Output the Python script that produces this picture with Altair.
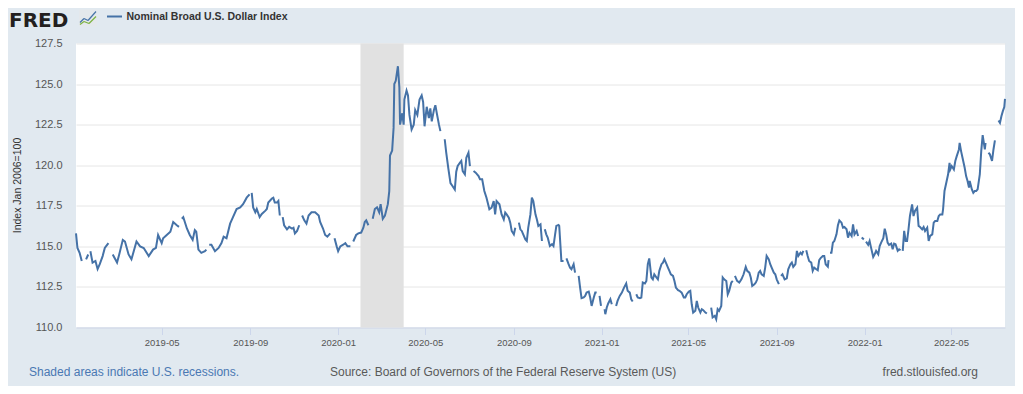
import altair as alt
import pandas as pd

# ---------------- data (None marks a gap in the published series) ----------------
dates_2019 = [
    "2019-01-02", "2019-01-04", "2019-01-07", "2019-01-10", "2019-01-13",
    "2019-01-16", "2019-01-19", "2019-01-20",
    "2019-01-22", "2019-01-25", "2019-01-29", "2019-02-01", "2019-02-04", "2019-02-08", "2019-02-11", "2019-02-16", "2019-02-19",
    "2019-02-22", "2019-02-28", "2019-03-03", "2019-03-08", "2019-03-11", "2019-03-16", "2019-03-20", "2019-03-27",
    "2019-04-01", "2019-04-06", "2019-04-13", "2019-04-19", "2019-04-23", "2019-04-26", "2019-05-01", "2019-05-03",
    "2019-05-08", "2019-05-13", "2019-05-17", "2019-05-22", "2019-05-25", "2019-05-27",
    "2019-05-29", "2019-05-31", "2019-06-05", "2019-06-09", "2019-06-13", "2019-06-16", "2019-06-18", "2019-06-21",
    "2019-06-25", "2019-06-30", "2019-07-02", "2019-07-04",
    "2019-07-06", "2019-07-09", "2019-07-14", "2019-07-19", "2019-07-23", "2019-07-26", "2019-07-30", "2019-08-04",
    "2019-08-08", "2019-08-13", "2019-08-18", "2019-08-22", "2019-08-27", "2019-08-31", "2019-09-02",
    "2019-09-03", "2019-09-05", "2019-09-08", "2019-09-10", "2019-09-14", "2019-09-17", "2019-09-22", "2019-09-24",
    "2019-09-26", "2019-10-01", "2019-10-03", "2019-10-05", "2019-10-08", "2019-10-10", "2019-10-12", "2019-10-14",
    "2019-10-16", "2019-10-18", "2019-10-22", "2019-10-25", "2019-10-29", "2019-10-31", "2019-11-02", "2019-11-05",
    "2019-11-08", "2019-11-10",
    "2019-11-12", "2019-11-15", "2019-11-18", "2019-11-21", "2019-11-25", "2019-11-30", "2019-12-05", "2019-12-07",
    "2019-12-11", "2019-12-14", "2019-12-17", "2019-12-21", "2019-12-24",
    "2019-12-27", "2019-12-30",
]
values_2019 = [
    115.8, 114.9, 114.6, 114.1, None,
    114.2, 114.5, None,
    114.7, 114.0, 114.1, 113.6, 113.9, 114.4, 114.9, 115.2, None,
    114.5, 114.0, 114.5, 115.4, 115.3, 114.5, 114.2, 115.3,
    115.0, 114.9, 114.4, 114.8, 114.9, 115.7, 115.2, 115.5,
    115.7, 115.9, 116.5, 116.3, 116.2, None,
    116.7, 116.8, 116.1, 115.7, 115.4, 116.0, 115.9, 114.8,
    114.6, 114.7, 114.8, None,
    115.1, 115.1, 114.7, 114.9, 115.2, 115.6, 115.5, 116.4,
    116.8, 117.3, 117.4, 117.6, 118.0, 118.2, None,
    118.3, 117.4, 117.1, 117.3, 116.8, 117.0, 117.2, 117.3,
    117.7, 117.95, 118.0, 117.7, 117.7, 117.8, 116.9, None,
    116.8, 116.3, 116.05, 116.2, 116.1, 116.15, 115.8, 115.95,
    116.3, None,
    116.9, 116.6, 116.4, 116.9, 117.1, 117.1, 116.9, 116.5,
    116.1, 115.7, 115.6, 115.8, None,
    115.5, 115.0,
]

dates_2020 = [
    "2020-01-01", "2020-01-04", "2020-01-08", "2020-01-11", "2020-01-14", "2020-01-18", "2020-01-20",
    "2020-01-22", "2020-01-26", "2020-01-29", "2020-02-02", "2020-02-05", "2020-02-07", "2020-02-09", "2020-02-12", "2020-02-15",
    "2020-02-18", "2020-02-21", "2020-02-24", "2020-02-27", "2020-02-29", "2020-03-03", "2020-03-06", "2020-03-10",
    "2020-03-12", "2020-03-13", "2020-03-16", "2020-03-18", "2020-03-19", "2020-03-21", "2020-03-24", "2020-03-26",
    "2020-03-27", "2020-03-30", "2020-04-01", "2020-04-02", "2020-04-05", "2020-04-07", "2020-04-09", "2020-04-12",
    "2020-04-15", "2020-04-17", "2020-04-20", "2020-04-23", "2020-04-26", "2020-04-28", "2020-04-30", "2020-05-03",
    "2020-05-06", "2020-05-08", "2020-05-10", "2020-05-13", "2020-05-15", "2020-05-17", "2020-05-20", "2020-05-22", "2020-05-25",
    "2020-05-28", "2020-05-30", "2020-06-02", "2020-06-05", "2020-06-08", "2020-06-11", "2020-06-13", "2020-06-15",
    "2020-06-18", "2020-06-20", "2020-06-22", "2020-06-25", "2020-06-27", "2020-06-30", "2020-07-02", "2020-07-04",
    "2020-07-07", "2020-07-10", "2020-07-14", "2020-07-16", "2020-07-19", "2020-07-22", "2020-07-25", "2020-07-29",
    "2020-08-01", "2020-08-04", "2020-08-06", "2020-08-08", "2020-08-12", "2020-08-15", "2020-08-18", "2020-08-20",
    "2020-08-22", "2020-08-25", "2020-08-27", "2020-08-29", "2020-09-01", "2020-09-03", "2020-09-05",
    "2020-09-08", "2020-09-10", "2020-09-12", "2020-09-14", "2020-09-17", "2020-09-19", "2020-09-21", "2020-09-24",
    "2020-09-26", "2020-09-28", "2020-10-01", "2020-10-03", "2020-10-05", "2020-10-08", "2020-10-10", "2020-10-12",
    "2020-10-14", "2020-10-16", "2020-10-18", "2020-10-21", "2020-10-24", "2020-10-26", "2020-10-28", "2020-10-30",
    "2020-11-02", "2020-11-03", "2020-11-06", "2020-11-09", "2020-11-11",
    "2020-11-13", "2020-11-16", "2020-11-18", "2020-11-20", "2020-11-23", "2020-11-25", "2020-11-27",
    "2020-11-30", "2020-12-02", "2020-12-04", "2020-12-07", "2020-12-09", "2020-12-11", "2020-12-14", "2020-12-16",
    "2020-12-18", "2020-12-21", "2020-12-23", "2020-12-25", "2020-12-27",
    "2020-12-29", "2020-12-31",
]
values_2020 = [
    114.7, 115.0, 115.1, 115.2, 115.0, 115.0, None,
    115.3, 115.7, 115.8, 115.85, 116.15, 116.5, 116.6, 116.3, None,
    116.7, 117.3, 117.4, 117.1, 117.6, 116.7, 116.9, 117.6,
    118.4, 120.6, 120.9, 122.3, 125.0, 125.2, 126.1, 124.8,
    122.5, 123.2, 122.5, 124.05, 124.6, 124.3, 123.1, 122.2,
    122.5, 123.4, 123.1, 124.05, 124.3, 123.9, 122.4, 123.6,
    122.9, 123.5, 122.7, 123.4, 123.7, 123.2, 122.5, 122.1, None,
    121.6, 120.8, 119.8, 118.9, 118.7, 118.5, 119.6, 119.95,
    120.15, 120.26, 119.64, 119.44, 120.46, 120.77, 119.95, None,
    119.64, 119.54, 119.33, 119.13, 119.13, 118.41, 118.0, 117.28,
    117.38, 117.79, 116.97, 117.79, 117.59, 116.97, 116.66, 117.08,
    116.97, 116.77, 116.46, 115.95, 115.74, 116.15, None,
    116.46, 116.05, 115.95, 115.74, 115.43, 115.33, 116.15, 116.97,
    118.0, 117.79, 116.97, 116.66, 116.26, 116.36, 115.33, None,
    116.05, 115.74, 115.54, 115.02, 115.13, 115.02, 115.64, 116.26,
    116.32, 116.26, 114.1, 114.1, None,
    114.26, 113.9, 113.69, 113.59, 113.9, 113.38, None,
    113.18, 112.46, 111.81, 111.85, 111.95, 112.15, 112.21, 111.85,
    111.33, 111.85, 112.15, 112.15, None,
    111.95, 111.33,
]

dates_2021 = [
    "2021-01-02",
    "2021-01-05", "2021-01-06", "2021-01-08", "2021-01-10", "2021-01-13", "2021-01-15", "2021-01-18",
    "2021-01-21", "2021-01-23", "2021-01-26", "2021-01-29", "2021-02-01", "2021-02-04", "2021-02-06", "2021-02-09",
    "2021-02-11", "2021-02-13", "2021-02-15",
    "2021-02-18", "2021-02-20", "2021-02-23", "2021-02-25", "2021-02-27", "2021-03-02", "2021-03-04", "2021-03-06",
    "2021-03-08", "2021-03-11", "2021-03-13", "2021-03-15", "2021-03-18", "2021-03-20", "2021-03-22", "2021-03-25",
    "2021-03-27", "2021-03-29", "2021-04-01", "2021-04-03", "2021-04-05", "2021-04-07", "2021-04-10", "2021-04-12",
    "2021-04-14", "2021-04-17", "2021-04-19", "2021-04-22", "2021-04-25", "2021-04-27", "2021-04-29", "2021-05-02",
    "2021-05-04", "2021-05-06", "2021-05-08", "2021-05-11", "2021-05-13", "2021-05-15", "2021-05-18", "2021-05-20",
    "2021-05-22", "2021-05-25", "2021-05-27", "2021-05-30",
    "2021-06-02", "2021-06-04", "2021-06-07", "2021-06-09", "2021-06-11", "2021-06-13", "2021-06-16", "2021-06-18",
    "2021-06-20", "2021-06-23", "2021-06-25", "2021-06-27", "2021-06-30", "2021-07-02", "2021-07-03",
    "2021-07-05", "2021-07-08", "2021-07-11", "2021-07-14", "2021-07-17", "2021-07-20", "2021-07-22", "2021-07-25",
    "2021-07-27", "2021-07-29", "2021-08-01", "2021-08-03", "2021-08-05", "2021-08-07", "2021-08-09", "2021-08-11",
    "2021-08-14", "2021-08-16", "2021-08-18", "2021-08-21", "2021-08-23", "2021-08-25", "2021-08-28", "2021-08-30",
    "2021-09-01", "2021-09-04", "2021-09-05",
    "2021-09-07", "2021-09-09", "2021-09-12", "2021-09-15", "2021-09-17", "2021-09-20", "2021-09-22", "2021-09-24",
    "2021-09-27", "2021-09-29", "2021-10-01", "2021-10-04", "2021-10-06", "2021-10-08", "2021-10-10",
    "2021-10-12", "2021-10-14", "2021-10-16", "2021-10-19", "2021-10-21", "2021-10-23", "2021-10-26", "2021-10-28",
    "2021-10-30", "2021-11-01", "2021-11-04", "2021-11-06", "2021-11-08", "2021-11-11", "2021-11-12", "2021-11-13",
    "2021-11-14", "2021-11-16", "2021-11-18", "2021-11-20", "2021-11-23", "2021-11-25", "2021-11-27", "2021-11-30",
    "2021-12-02", "2021-12-04", "2021-12-07", "2021-12-09", "2021-12-11", "2021-12-14", "2021-12-16", "2021-12-18",
    "2021-12-21", "2021-12-23", "2021-12-25",
    "2021-12-28", "2021-12-31",
]
values_2021 = [
    None,
    111.13, 110.82, 111.23, 111.48, 111.74, 111.43, None,
    111.33, 111.64, 111.95, 112.15, 112.46, 112.71, 112.26, 112.15,
    111.74, 111.6, None,
    112.05, 111.85, 111.81, 111.85, 112.77, 112.71, 112.87, 113.9,
    114.26, 113.08, 112.97, 113.28, 113.08, 112.97, 113.49, 113.9,
    114.0, 114.2, 113.9, 113.69, 113.49, 113.28, 113.18, 112.87,
    112.46, 112.3, 112.26, 112.15, 111.85, 111.85, 112.05, 112.21,
    112.26, 111.43, 110.92, 111.03, 111.64, 111.23, 110.92, 111.13,
    111.07, 110.92, 110.86, None,
    111.23, 110.62, 110.72, 110.51, 111.13, 111.02, 111.33, 113.08,
    112.97, 112.87, 112.05, 112.26, 112.77, 112.87, None,
    113.18, 112.87, 112.77, 112.97, 113.28, 113.73, 113.49, 113.38,
    113.08, 112.56, 112.67, 112.77, 112.97, 113.38, 113.49, 113.28,
    113.18, 113.69, 114.41, 114.2, 113.9, 113.69, 113.38, 113.28,
    112.97, 112.67, None,
    113.18, 113.28, 112.97, 113.03, 113.59, 113.9, 114.0, 113.73,
    113.9, 114.72, 114.41, 114.61, 114.51, 114.72, None,
    114.76, 114.41, 114.1, 114.0, 113.49, 113.69, 113.59, 113.53,
    114.15, 114.28, 114.41, 114.41, 113.9, 113.75, 114.15, None,
    114.61, 114.61, 115.23, 115.33, 115.74, 116.3, 116.6, 116.46,
    116.15, 116.19, 116.05, 115.54, 115.84, 115.64, 116.36, 115.74,
    115.95, 115.64, None,
    115.54, 115.43,
]

dates_2022 = [
    "2022-01-01",
    "2022-01-03", "2022-01-06", "2022-01-08", "2022-01-10", "2022-01-13", "2022-01-15", "2022-01-17", "2022-01-20",
    "2022-01-22", "2022-01-24", "2022-01-27", "2022-01-29", "2022-01-31", "2022-02-02", "2022-02-04", "2022-02-07",
    "2022-02-09", "2022-02-11", "2022-02-13", "2022-02-16", "2022-02-18", "2022-02-20", "2022-02-22",
    "2022-02-23", "2022-02-25", "2022-02-27", "2022-03-01", "2022-03-03", "2022-03-05", "2022-03-08", "2022-03-10",
    "2022-03-12", "2022-03-15", "2022-03-17", "2022-03-19", "2022-03-22", "2022-03-24", "2022-03-26", "2022-03-29",
    "2022-03-31", "2022-04-02", "2022-04-05", "2022-04-07", "2022-04-09", "2022-04-12", "2022-04-14", "2022-04-16",
    "2022-04-19", "2022-04-20", "2022-04-22", "2022-04-25", "2022-04-27", "2022-04-29", "2022-04-30", "2022-05-02",
    "2022-05-05", "2022-05-07", "2022-05-09", "2022-05-12", "2022-05-13", "2022-05-15", "2022-05-17", "2022-05-20",
    "2022-05-22", "2022-05-24", "2022-05-26", "2022-05-27", "2022-05-30", "2022-06-01", "2022-06-03", "2022-06-05",
    "2022-06-07", "2022-06-10", "2022-06-12", "2022-06-14", "2022-06-17", "2022-06-18", "2022-06-20",
    "2022-06-22", "2022-06-24", "2022-06-27", "2022-06-29", "2022-07-01", "2022-07-03",
    "2022-07-06", "2022-07-08", "2022-07-10", "2022-07-12", "2022-07-14", "2022-07-15",
]
values_2022 = [
    None,
    115.29, 115.09, 115.33, 114.92, 114.35, 114.51, 114.72, 114.51,
    115.02, 115.23, 115.5, 116.09, 115.74, 115.23, 115.09, 115.17,
    114.82, 115.17, 115.13, 114.72, 114.82, 114.76, None,
    114.72, 115.95, 115.33, 115.33, 116.05, 116.87, 117.59, 116.87,
    117.18, 117.38, 116.26, 116.19, 116.05, 116.19, 115.95, 116.15,
    115.33, 115.64, 115.74, 116.46, 116.56, 116.56, 116.87, 116.97,
    116.97, 117.28, 118.41, 119.03, 119.44, 120.15, 119.74, 119.95,
    119.74, 120.26, 120.56, 120.97, 121.38, 120.87, 120.46, 119.84,
    119.33, 119.03, 118.62, 119.03, 118.51, 118.3, 118.41, 118.41,
    118.51, 119.44, 120.87, 121.85, 120.97, 121.38, None,
    120.77, 120.67, 120.26, 120.97, 121.53, None,
    122.76, 122.61, 123.02, 123.33, 123.58, 124.09,
]

recession_start = ["2020-02-01"]
recession_end = ["2020-04-01"]

y_ticks = [110.0, 112.5, 115.0, 117.5, 120.0, 122.5, 125.0, 127.5]

series_name = "Nominal Broad U.S. Dollar Index"
y_title = "Index Jan 2006=100"
note_left = "Shaded areas indicate U.S. recessions."
note_mid = "Source: Board of Governors of the Federal Reserve System (US)"
note_right = "fred.stlouisfed.org"

# ---------------- build table ----------------
all_dates = dates_2019 + dates_2020 + dates_2021 + dates_2022
all_values = values_2019 + values_2020 + values_2021 + values_2022
rows = []
seg = 0
for d, v in zip(all_dates, all_values):
    if v is None:
        seg += 1
        continue
    rows.append({"date": d, "value": v, "seg": seg})
df = pd.DataFrame(rows)
rec = pd.DataFrame({"start": recession_start, "end": recession_end})

FONT = "Liberation Sans"
LINE = "#4572a7"
W, H = 929, 284

x_scale = alt.Scale(
    type="utc",
    domain=[alt.DateTime(year=2019, month=1, date=2, utc=True),
            alt.DateTime(year=2022, month=7, date=15, utc=True)],
)

band = alt.Chart(rec).mark_rect(color="#e1e1e1").encode(
    x=alt.X("start:T", scale=x_scale),
    x2="end:T",
)

line = alt.Chart(df).mark_line(color=LINE, strokeWidth=2).encode(
    x=alt.X(
        "date:T",
        scale=x_scale,
        axis=alt.Axis(
            title=None,
            tickCount={"interval": "month", "step": 4},
            labelExpr="utcFormat(datum.value, '%Y-%m')",
            grid=False,
            domainColor="#ccd6eb",
            tickColor="#ccd6eb",
            tickSize=7,
            labelFontSize=9.5,
            labelColor="#555555",
            labelFont=FONT,
            labelPadding=3,
        ),
    ),
    y=alt.Y(
        "value:Q",
        scale=alt.Scale(domain=[110, 127.5], nice=False, zero=False),
        axis=alt.Axis(
            title=None,
            values=y_ticks,
            format=".1f",
            grid=True,
            gridColor="#e6e6e6",
            domain=False,
            ticks=False,
            labelFontSize=11,
            labelColor="#555555",
            labelFont=FONT,
            labelPadding=14,
        ),
    ),
    detail="seg:N",
)


def label(text, x, y, size=12, color="#555555", weight="normal", align="left", angle=0,
          font=FONT, baseline="middle"):
    return alt.Chart(pd.DataFrame({"t": [text]})).mark_text(
        font=font, fontSize=size, color=color, fontWeight=weight, align=align,
        baseline=baseline, angle=angle,
    ).encode(text="t:N", x=alt.value(x), y=alt.value(y))


def seg_rule(x1, y1, x2, y2, color, width=1.5):
    return alt.Chart(pd.DataFrame({"a": [0]})).mark_rule(color=color, strokeWidth=width).encode(
        x=alt.value(x1), y=alt.value(y1), x2=alt.value(x2), y2=alt.value(y2)
    )


logo = label("FRED", -67, -16.5, size=20, color="#231f20", weight="bold",
             font="DejaVu Sans", baseline="alphabetic")
icon_box = alt.Chart(pd.DataFrame({"a": [0]})).mark_rect(fill="#e4e8ec").encode(
    x=alt.value(3), x2=alt.value(21), y=alt.value(-34), y2=alt.value(-17)
)
icon_lines = [
    seg_rule(4, -21, 8, -25, LINE, 1.2), seg_rule(8, -25, 12, -23, LINE, 1.2), seg_rule(12, -23, 20, -32, LINE, 1.2),
    seg_rule(4, -19, 8, -22, "#7cb342", 1.2), seg_rule(8, -22, 13, -20, "#7cb342", 1.2), seg_rule(13, -20, 20, -27, "#7cb342", 1.2),
]
legend_line = seg_rule(31, -27, 46, -27, LINE, 2)
legend_text = label(series_name, 50.5, -27, size=10.5, color="#333333", weight="bold")
ytitle = label(y_title, -58, H / 2, size=10.5, color="#333333", align="center", angle=270)
foot_l = label(note_left, -47, 328.5, size=12, color="#4a78b3")
foot_m = label(note_mid, 254, 328.5, size=12, color="#595959")
foot_r = label(note_right, 902, 328.5, size=12, color="#595959", align="right")

chart = alt.layer(
    band, line, logo, icon_box, *icon_lines, legend_line, legend_text, ytitle, foot_l, foot_m, foot_r
).properties(
    width=W,
    height=H,
    padding={"left": 68, "top": 35.5, "right": 10, "bottom": 58},
    autosize=alt.AutoSizeParams(type="none"),
).configure(
    background="#e1e9f0",
).configure_view(
    fill="white",
    stroke=None,
)

chart.save("out.html", embed_options={"renderer": "svg", "actions": False})
